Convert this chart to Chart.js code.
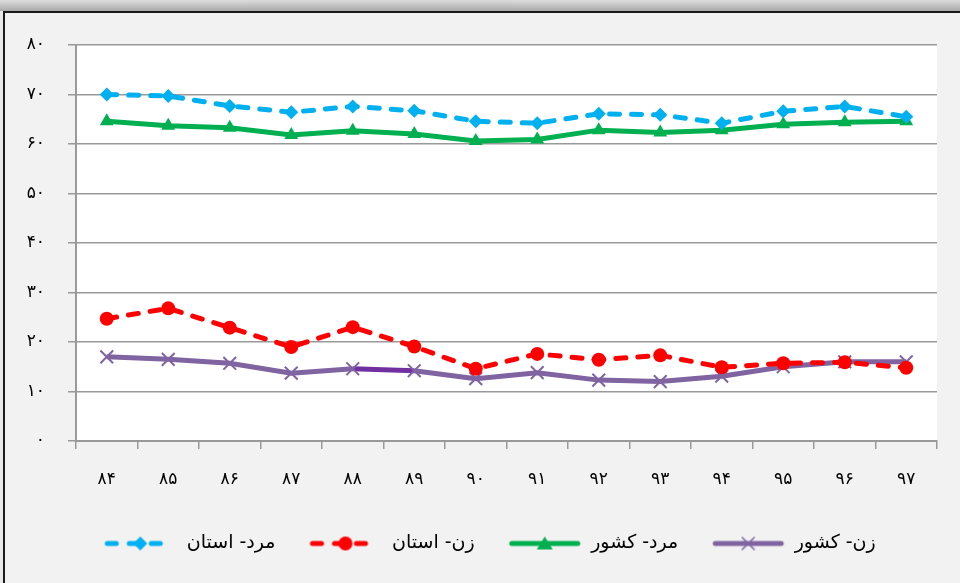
<!DOCTYPE html>
<html>
<head>
<meta charset="utf-8">
<script src="https://cdn.jsdelivr.net/npm/chart.js@4.4.0/dist/chart.umd.min.js"></script>
<style>
  body { margin: 0; background: #e8e8e8; width: 960px; height: 583px; overflow: hidden; position: relative; }
  #topbar { position: absolute; left: 0; top: 0; width: 960px; height: 11px; background: linear-gradient(#dcdcdc, #a9a9a9); }
  #frame { position: absolute; left: 3px; top: 11px; width: 980px; height: 600px; border-left: 2px solid #1a1a1a; border-top: 2px solid #1a1a1a; background: #f2f2f2; }
  #myChart { position: absolute; left: 0; top: 0; }
</style>
</head>
<body>
<div id="topbar"></div>
<div id="frame"></div>
<canvas id="myChart" width="960" height="583"></canvas>
<script>
const years = ["۸۴", "۸۵", "۸۶", "۸۷", "۸۸", "۸۹", "۹۰", "۹۱", "۹۲", "۹۳", "۹۴", "۹۵", "۹۶", "۹۷"];
const seriesNames = ["مرد- استان", "زن- استان", "مرد- کشور", "زن- کشور"];

const maleProvince = [70.0, 69.7, 67.7, 66.4, 67.6, 66.7, 64.6, 64.2, 66.1, 65.9, 64.2, 66.6, 67.6, 65.5];
const femaleProvince = [24.7, 26.8, 22.9, 19.0, 23.0, 19.1, 14.6, 17.6, 16.4, 17.3, 14.9, 15.7, 15.9, 14.8];
const maleCountry = [64.6, 63.7, 63.3, 61.8, 62.7, 62.0, 60.6, 60.9, 62.8, 62.3, 62.8, 64.0, 64.4, 64.6];
const femaleCountry = [17.0, 16.5, 15.7, 13.7, 14.6, 14.2, 12.6, 13.8, 12.3, 12.0, 13.1, 15.0, 16.0, 16.0];

const yMin = 0;
const yMax = 80;
const yStep = 10;

const faDigits = "۰۱۲۳۴۵۶۷۸۹";
function toFa(n) {
  return String(n).replace(/[0-9]/g, function (d) { return faDigits[d]; });
}

const fontFamily = "'DejaVu Sans', sans-serif";

// legend sample: short line with the marker in the middle
function sample(color, dashed, marker) {
  let c = document.createElement("canvas");
  c.width = 74;
  c.height = 18;
  let g = c.getContext("2d");
  let m = 37;
  g.strokeStyle = color;
  g.fillStyle = color;
  g.lineWidth = 5;
  g.lineCap = "round";
  if (dashed) g.setLineDash([9, 13]);
  g.beginPath();
  g.moveTo(4, 9);
  g.lineTo(70, 9);
  g.stroke();
  g.setLineDash([]);
  g.beginPath();
  if (marker == "diamond") {
    g.moveTo(m, 2); g.lineTo(m + 7, 9); g.lineTo(m, 16); g.lineTo(m - 7, 9); g.closePath(); g.fill();
  } else if (marker == "circle") {
    g.arc(m, 9, 7, 0, Math.PI * 2); g.fill();
  } else if (marker == "triangle") {
    g.moveTo(m, 2); g.lineTo(m + 8, 15); g.lineTo(m - 8, 15); g.closePath(); g.fill();
  } else {
    g.lineWidth = 1.5;
    g.moveTo(m - 6, 3); g.lineTo(m + 6, 15); g.moveTo(m + 6, 3); g.lineTo(m - 6, 15); g.stroke();
  }
  return c;
}

const samples = [
  sample("#00b0f0", true, "diamond"),
  sample("#ff0000", true, "circle"),
  sample("#00b050", false, "triangle"),
  sample("#8064a2", false, "cross"),
];

const plotBg = {
  id: "plotBg",
  beforeDraw(chart) {
    const a = chart.chartArea;
    const c = chart.ctx;
    c.save();
    c.fillStyle = "#ffffff";
    c.fillRect(a.left, a.top, a.right - a.left, a.bottom - a.top);
    c.restore();
  },
  // nudge the legend a little to the right, like the original
  afterLayout(chart) {
    if (chart.legend) chart.legend.left += 22;
  },
};

const ctx = document.getElementById("myChart").getContext("2d");
const myChart = new Chart(ctx, {
  type: "line",
  data: {
    labels: years,
    datasets: [
      {
        label: seriesNames[0],
        data: maleProvince,
        borderColor: "#00b0f0",
        backgroundColor: "#00b0f0",
        borderWidth: 5,
        borderDash: [10, 12],
        borderCapStyle: "round",
        pointStyle: "rectRot",
        pointRadius: 7,
        pointBorderWidth: 0,
      },
      {
        label: seriesNames[1],
        data: femaleProvince,
        borderColor: "#ff0000",
        backgroundColor: "#ff0000",
        borderWidth: 5,
        borderDash: [10, 12],
        borderCapStyle: "round",
        pointStyle: "circle",
        pointRadius: 7,
        pointBorderWidth: 0,
      },
      {
        label: seriesNames[2],
        data: maleCountry,
        borderColor: "#00b050",
        backgroundColor: "#00b050",
        borderWidth: 5,
        pointStyle: "triangle",
        pointRadius: 8,
        pointBorderWidth: 0,
      },
      {
        label: seriesNames[3],
        data: femaleCountry,
        borderColor: "#8064a2",
        backgroundColor: "#8064a2",
        borderWidth: 5,
        pointStyle: "crossRot",
        pointRadius: 9,
        pointBorderWidth: 2,
        segment: {
          borderColor: function (s) { return s.p0DataIndex == 4 ? "#7030a0" : undefined; },
        },
      },
    ],
  },
  options: {
    responsive: false,
    animation: false,
    layout: { padding: { left: 20, right: 23, top: 45, bottom: 20 } },
    elements: { line: { tension: 0 } },
    scales: {
      x: {
        offset: true,
        grid: { display: true, drawOnChartArea: false, drawTicks: true, tickLength: 8, color: "#999999", lineWidth: 1.5, offset: true },
        border: { display: true, color: "#999999", width: 2 },
        ticks: { color: "#000000", padding: 20, font: { family: fontFamily, size: 17 }, maxRotation: 0 },
        afterFit: function (s) { s.height = 60; },
      },
      y: {
        min: yMin,
        max: yMax,
        grid: { color: "#999999", lineWidth: 1.5, tickLength: 8 },
        border: { display: true, color: "#999999", width: 2 },
        ticks: {
          stepSize: yStep,
          color: "#000000",
          padding: 23,
          font: { family: fontFamily, size: 17 },
          callback: function (v) { return toFa(v); },
        },
        afterFit: function (s) { s.width = 56; },
      },
    },
    plugins: {
      tooltip: { enabled: false },
      legend: {
        position: "bottom",
        labels: {
          color: "#000000",
          font: { family: fontFamily, size: 19 },
          padding: 33,
          usePointStyle: true,
          pointStyleWidth: 74,
          generateLabels: function (chart) {
            let items = Chart.defaults.plugins.legend.labels.generateLabels(chart);
            items.forEach(function (it, i) {
              it.pointStyle = samples[i];
              it.text = "\u202A" + it.text + "\u202C";
            });
            return items;
          },
        },
      },
    },
  },
  plugins: [plotBg],
});
</script>
</body>
</html>
